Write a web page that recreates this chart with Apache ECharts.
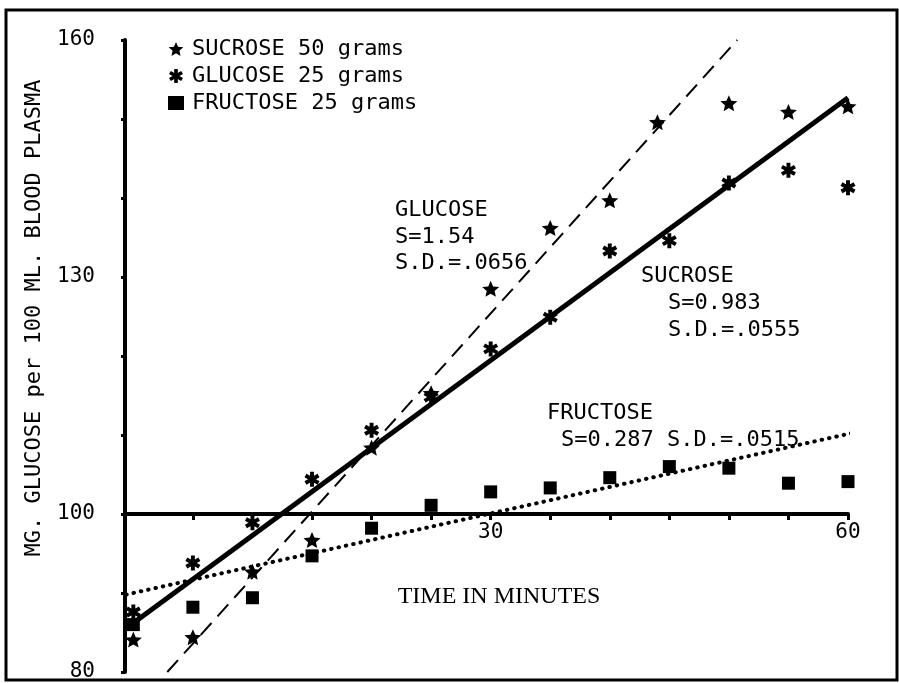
<!DOCTYPE html>
<html>
<head>
<meta charset="utf-8">
<script src="https://cdn.jsdelivr.net/npm/echarts@6/dist/echarts.min.js"></script>
<style>
html,body{margin:0;padding:0;background:#fff;}
#c{width:899px;height:683px;}
</style>
</head>
<body>
<div id="c"></div>
<script>
// ---- data ----
const starTimes = [0, 5, 10, 15, 20, 25, 30, 35, 40, 44, 50, 55, 60];
const starValues = [84.1, 84.4, 92.7, 96.7, 108.4, 115.3, 128.5, 136.2, 139.7, 149.6, 152.0, 150.9, 151.6];
const asteriskTimes = [0, 5, 10, 15, 20, 25, 30, 35, 40, 45, 50, 55, 60];
const asteriskValues = [87.6, 93.8, 98.9, 104.4, 110.6, 114.8, 120.9, 124.9, 133.3, 134.6, 141.9, 143.5, 141.3];
const squareTimes = [0, 5, 10, 15, 20, 25, 30, 35, 40, 45, 50, 55, 60];
const squareValues = [86.0, 88.2, 89.4, 94.7, 98.2, 101.1, 102.8, 103.3, 104.6, 106.0, 105.8, 103.9, 104.1];
// fitted lines (end points)
const glucoseFitT = [2.85, 50.7];
const glucoseFitV = [80, 160];
const sucroseFitT = [0, 60];
const sucroseFitV = [86.2, 152.7];
const fructoseFitT = [-0.6, 60.8];
const fructoseFitV = [89.8, 110.4];
// labels
const seriesNames = ['SUCROSE 50 grams', 'GLUCOSE 25 grams', 'FRUCTOSE 25 grams'];
const yLabelValues = [80, 100, 130, 160];
const xLabelValues = [30, 60];
const xTickValues = [5, 10, 15, 20, 25, 30, 35, 40, 45, 50, 55, 60];
const yTitle = 'MG. GLUCOSE per 100 ML. BLOOD PLASMA';
const xTitle = 'TIME IN MINUTES';

// ---- layout ----
const G = {left: 125, right: 51, top: 40, bottom: 11};
const Y_MIN = 80, Y_MAX = 160, X_MIN = -0.7, X_MAX = 60, X_AXIS_AT = 100;
const plotH = 683 - G.top - G.bottom;
const xAxisOffset = -(X_AXIS_AT - Y_MIN) * plotH / (Y_MAX - Y_MIN);

const MONO = '"DejaVu Sans Mono", monospace';
const zip = (a, b) => a.map((t, i) => [t, b[i]]);

const starPath = 'path://M0,-5L1.35,-1.86L4.755,-1.545L2.19,0.71L2.939,4.045L0,2.3L-2.939,4.045L-2.19,0.71L-4.755,-1.545L-1.35,-1.86Z';
const asteriskPath = 'path://M-1.3,-5L1.3,-5L1.3,5L-1.3,5Z M3.68,-3.63L4.98,-1.37L-3.68,3.63L-4.98,1.37Z M4.98,1.37L3.68,3.63L-4.98,-1.37L-3.68,-3.63Z';

const chart = echarts.init(document.getElementById('c'), null, {renderer: 'canvas'});

function txt(text, x, y) {
  return {
    type: 'text', x: x, y: y,
    style: {text: text, fill: '#000', font: '22px ' + MONO, textAlign: 'left', textVerticalAlign: 'middle'}
  };
}

const solid = {color: '#000', opacity: 1};

chart.setOption({
  backgroundColor: '#fff',
  animation: false,
  grid: {left: G.left, right: G.right, top: G.top, bottom: G.bottom, containLabel: false, outerBoundsMode: 'none'},
  legend: {
    show: true,
    data: seriesNames,
    orient: 'vertical',
    left: 163,
    top: 33,
    itemWidth: 16,
    itemHeight: 14,
    itemGap: 5,
    selectedMode: false,
    textStyle: {fontFamily: MONO, fontSize: 22, color: '#000', padding: [0, 0, 0, 3]}
  },
  xAxis: {
    type: 'value',
    min: X_MIN, max: X_MAX,
    position: 'bottom',
    offset: xAxisOffset,
    splitLine: {show: false},
    axisLine: {onZero: false, lineStyle: {color: '#000', width: 4}},
    axisTick: {show: true, customValues: xTickValues, length: 6, lineStyle: {color: '#000', width: 3}},
    axisLabel: {customValues: xLabelValues, margin: 8, color: '#000', fontFamily: MONO, fontSize: 21}
  },
  yAxis: {
    type: 'value',
    min: Y_MIN, max: Y_MAX, interval: 10,
    splitLine: {show: false},
    axisLine: {onZero: false, lineStyle: {color: '#000', width: 4}},
    axisTick: {show: true, length: 4, lineStyle: {color: '#000', width: 3}},
    axisLabel: {
      margin: 30, color: '#000', fontFamily: MONO, fontSize: 21,
      formatter: v => (yLabelValues.indexOf(v) >= 0 ? String(v) : '')
    }
  },
  graphic: [
    {type: 'rect', shape: {x: 6, y: 10, width: 891, height: 670}, style: {fill: 'none', stroke: '#000', lineWidth: 3}, z: 100},
    {type: 'text', x: 34, y: 318, rotation: Math.PI / 2,
     style: {text: yTitle, fill: '#000', font: '22px ' + MONO, textAlign: 'center', textVerticalAlign: 'middle'}},
    {type: 'text', x: 499, y: 597,
     style: {text: xTitle, fill: '#000', font: '24px "Liberation Serif", serif', textAlign: 'center', textVerticalAlign: 'middle'}},
    txt('GLUCOSE', 395, 210),
    txt('S=1.54', 395, 237),
    txt('S.D.=.0656', 395, 263),
    txt('SUCROSE', 641, 276),
    txt('S=0.983', 668, 303),
    txt('S.D.=.0555', 668, 330),
    txt('FRUCTOSE', 547, 413),
    txt('S=0.287 S.D.=.0515', 561, 440)
  ],
  series: [
    {
      name: seriesNames[0], type: 'scatter', symbol: starPath, symbolSize: [17, 16],
      itemStyle: solid, emphasis: {disabled: true}, data: zip(starTimes, starValues), z: 5
    },
    {
      name: seriesNames[1], type: 'scatter', symbol: asteriskPath, symbolSize: [15, 15],
      itemStyle: solid, emphasis: {disabled: true}, data: zip(asteriskTimes, asteriskValues), z: 5
    },
    {
      name: seriesNames[2], type: 'scatter', symbol: 'rect', symbolSize: 13,
      itemStyle: solid, emphasis: {disabled: true}, data: zip(squareTimes, squareValues), z: 5
    },
    {
      name: 'glucose fit', type: 'line', showSymbol: false, symbol: 'none', clip: false,
      lineStyle: {color: '#000', width: 2, type: [16, 9]}, data: zip(glucoseFitT, glucoseFitV), z: 3
    },
    {
      name: 'sucrose fit', type: 'line', showSymbol: false, symbol: 'none', clip: false,
      lineStyle: {color: '#000', width: 5}, data: zip(sucroseFitT, sucroseFitV), z: 3
    },
    {
      name: 'fructose fit', type: 'line', showSymbol: false, symbol: 'none', clip: false,
      lineStyle: {color: '#000', width: 4, type: [0.5, 7], cap: 'round'}, data: zip(fructoseFitT, fructoseFitV), z: 3
    }
  ]
});
</script>
</body>
</html>
